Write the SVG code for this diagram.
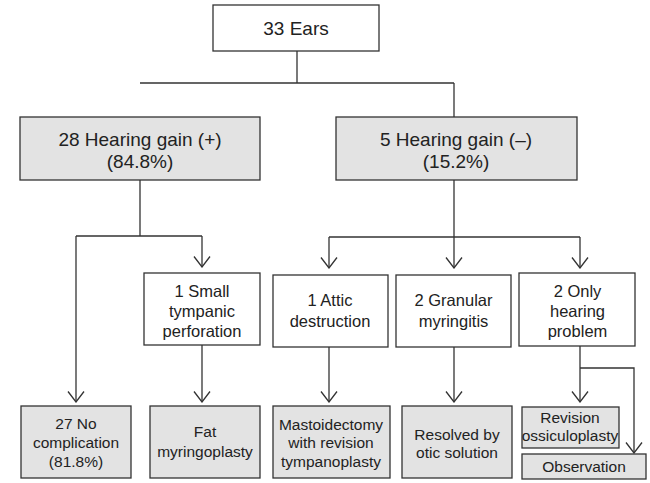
<svg xmlns="http://www.w3.org/2000/svg" width="650" height="483" viewBox="0 0 650 483">
<style>
.box{stroke:#333;stroke-width:1.3;}
.w{fill:#fff;}
.g{fill:#e3e3e3;}
text{font-family:"Liberation Sans",Arial,sans-serif;fill:#222;text-anchor:middle;}
.l{font-size:19px;}
.m{font-size:16.5px;}
.s{font-size:15.5px;}
.c{fill:none;stroke:#333;stroke-width:1.3;}
</style>
<defs>
<marker id="ah" viewBox="-12 -9 13 18" refX="0" refY="0" markerWidth="13" markerHeight="18" markerUnits="userSpaceOnUse" orient="auto">
<path d="M-10.5,-8 L0,0 L-10.5,8" fill="none" stroke="#333" stroke-width="1.3"/>
</marker>
</defs>
<rect width="650" height="483" fill="#fff"/>
<g id="connectors" class="c">
<path d="M297,51 V83 M140,83 H454"/>
<path d="M140,180 V236 M76,236 H202"/>
<path d="M76,236 V402" marker-end="url(#ah)"/>
<path d="M202,236 V267" marker-end="url(#ah)"/>
<path d="M454,83 V117"/>
<path d="M454,180 V268" marker-end="url(#ah)"/>
<path d="M329,237 H580"/>
<path d="M329,237 V268" marker-end="url(#ah)"/>
<path d="M580,237 V268" marker-end="url(#ah)"/>
<path d="M202,345 V402" marker-end="url(#ah)"/>
<path d="M329,347 V402" marker-end="url(#ah)"/>
<path d="M454,347 V402" marker-end="url(#ah)"/>
<path d="M580,346 V402" marker-end="url(#ah)"/>
<path d="M580,368 H634 V453" marker-end="url(#ah)"/>
</g>
<g id="n-root"><rect class="box w" x="213" y="5" width="166" height="46"/><text class="l" x="296" y="35">33 Ears</text></g>
<g id="n-gain"><rect class="box g" x="20" y="117" width="240" height="63"/><text class="l" x="140" y="146">28 Hearing gain (+)</text><text class="l" x="140" y="168">(84.8%)</text></g>
<g id="n-nogain"><rect class="box g" x="336" y="117" width="241" height="63"/><text class="l" x="456" y="146">5 Hearing gain (–)</text><text class="l" x="456" y="168">(15.2%)</text></g>
<g id="n-small"><rect class="box w" x="144" y="273" width="116" height="72"/><text class="m" x="202" y="297">1 Small</text><text class="m" x="202" y="317">tympanic</text><text class="m" x="202" y="337">perforation</text></g>
<g id="n-attic"><rect class="box w" x="273" y="275" width="115" height="72"/><text class="m" x="330" y="306">1 Attic</text><text class="m" x="330" y="327">destruction</text></g>
<g id="n-gran"><rect class="box w" x="396" y="275" width="115" height="72"/><text class="m" x="453.5" y="306">2 Granular</text><text class="m" x="453.5" y="327">myringitis</text></g>
<g id="n-only"><rect class="box w" x="519" y="273" width="116" height="73"/><text class="m" x="577.5" y="297">2 Only</text><text class="m" x="577.5" y="317">hearing</text><text class="m" x="577.5" y="337">problem</text></g>
<g id="n-nocomp"><rect class="box g" x="21" y="406" width="110" height="72"/><text class="s" x="76" y="429">27 No</text><text class="s" x="76" y="448">complication</text><text class="s" x="76" y="467">(81.8%)</text></g>
<g id="n-fat"><rect class="box g" x="150" y="406" width="110" height="72"/><text class="s" x="205" y="437">Fat</text><text class="s" x="205" y="457">myringoplasty</text></g>
<g id="n-mast"><rect class="box g" x="273" y="406" width="117" height="72"/><text class="s" x="331" y="430">Mastoidectomy</text><text class="s" x="331" y="448">with revision</text><text class="s" x="331" y="467">tympanoplasty</text></g>
<g id="n-resolved"><rect class="box g" x="402" y="406" width="110" height="72"/><text class="s" x="457" y="440">Resolved by</text><text class="s" x="457" y="458">otic solution</text></g>
<g id="n-revision"><rect class="box g" x="522" y="407" width="97" height="41"/><text class="s" x="570" y="423">Revision</text><text class="s" x="570" y="441">ossiculoplasty</text></g>
<g id="n-obs"><rect class="box g" x="522" y="454" width="124" height="25"/><text class="s" x="584" y="472">Observation</text></g>
</svg>
